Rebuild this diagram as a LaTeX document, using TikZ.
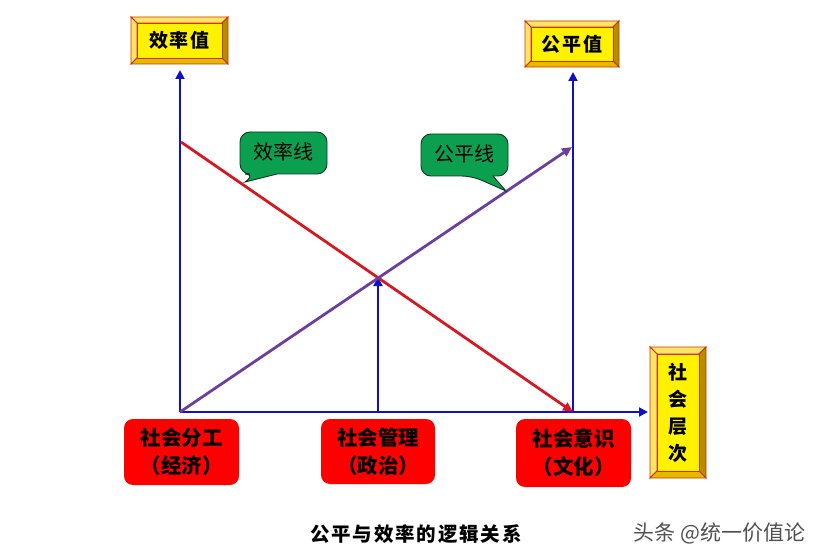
\documentclass[tikz,border=0pt]{standalone}
\usepackage{fontspec}
\setmainfont{Noto Sans CJK SC}
\usetikzlibrary{arrows.meta}
\definecolor{axisblue}{HTML}{1010C8}
\definecolor{lineRed}{HTML}{D81820}
\definecolor{linePurple}{HTML}{6B3FA0}
\definecolor{calloutGreen}{HTML}{0BA050}
\definecolor{calloutEdge}{HTML}{0B3A20}
\definecolor{bevelEdge}{HTML}{CC3300}
\definecolor{bevelTop}{HTML}{FFE566}
\definecolor{bevelBottom}{HTML}{E6B800}
\definecolor{bevelRight}{HTML}{B38F00}
\definecolor{markGray}{HTML}{505050}
\tikzset{
  axisline/.style={draw=axisblue,line width=2pt,-{Triangle[length=9pt,width=9pt]}},
  trendline/.style={line width=2.8pt,-{Triangle[length=10pt,width=9pt]}},
  goldtext/.style={font=\fontsize{19}{24}\selectfont\bfseries,align=center,inner sep=0pt},
  redbox/.style={fill=red,rounded corners=9pt,font=\fontsize{20.5}{28}\selectfont\bfseries,align=center,inner sep=0pt},
  greentext/.style={font=\fontsize{20}{24}\selectfont,inner sep=0pt},
  calloutshape/.style={fill=calloutGreen,draw=calloutEdge,line width=0.9pt,rounded corners=10pt},
  facet/.style={draw=bevelEdge,line width=0.8pt},
}
% #1 name, #2 left, #3 top, #4 right, #5 bottom, #6 bevel, #7 text
\newcommand{\goldbox}[7]{%
  \fill[bevelTop,facet] (#2,#3) -- (#4,#3) -- (#4-#6,#3+#6) -- (#2+#6,#3+#6) -- cycle;
  \fill[bevelTop,facet] (#2,#3) -- (#2+#6,#3+#6) -- (#2+#6,#5-#6) -- (#2,#5) -- cycle;
  \fill[bevelRight,facet] (#4,#3) -- (#4,#5) -- (#4-#6,#5-#6) -- (#4-#6,#3+#6) -- cycle;
  \fill[bevelBottom,facet] (#2,#5) -- (#4,#5) -- (#4-#6,#5-#6) -- (#2+#6,#5-#6) -- cycle;
  \fill[yellow,facet] (#2+#6,#3+#6) rectangle (#4-#6,#5-#6);
  \node[goldtext] (#1) at ({(#2+#4)/2},{(#3+#5)/2}) {#7};
}
\begin{document}
\begin{tikzpicture}[x=1pt,y=-1pt]
\useasboundingbox (0,0) rectangle (820,559);
\goldbox{effval}{131}{17}{228}{64}{6}{效\hspace{2pt}率\hspace{2pt}值}
\goldbox{fairval}{525}{21}{619}{67}{6}{公\hspace{2pt}平\hspace{2pt}值}
\goldbox{level}{650}{347}{706}{478}{7}{社\\[3pt]会\\[3pt]层\\[3pt]次}

\node[redbox,minimum width=115pt,minimum height=66pt] (econ) at (181.5,452) {\raisebox{-2pt}{社会分工}\\\raisebox{-2pt}{（经济）}};
\node[redbox,minimum width=114pt,minimum height=65pt] (gov) at (378,451.5) {\raisebox{-2pt}{社会管理}\\\raisebox{-2pt}{（政治）}};
\node[redbox,minimum width=115pt,minimum height=68pt] (cult) at (573.5,453) {\raisebox{-1pt}{社会意识}\\\raisebox{-1pt}{（文化）}};

\coordinate (origin) at (180,412);
\coordinate (midbase) at (378,412);
\coordinate (rightbase) at (573,412);
\coordinate (xend) at (648,412);
\coordinate (leftend) at (180,70);
\coordinate (rightend) at (573,72);
\coordinate (midend) at (378,277);
\coordinate (redstart) at (181,142);
\coordinate (purpleend) at (572,147);

\draw[axisline] (origin) -- (xend);
\draw[axisline] (origin) -- (leftend);
\draw[axisline] (rightbase) -- (rightend);
\draw[axisline] (midbase) -- (midend);
\draw[trendline,draw=lineRed,fill=lineRed] (redstart) -- (rightbase);
\draw[trendline,draw=linePurple,fill=linePurple] (origin) -- (purpleend);

\draw[calloutshape] (255,174) [rounded corners=0pt] -- (245,182) -- (277,174) [rounded corners=10pt]
  -- (327,174) -- (327,132) -- (240,132) -- (240,174) -- cycle;
\node[greentext] (efflabel) at (283.5,152) {效率线};
\draw[calloutshape] (472,176) [rounded corners=0pt] -- (506,191) -- (493,176) [rounded corners=10pt]
  -- (508,176) -- (508,134) -- (421,134) -- (421,176) -- cycle;
\node[greentext] (fairlabel) at (464.5,154) {公平线};

\node[font=\fontsize{19.5}{24}\selectfont\bfseries,inner sep=0pt] (caption) at (416,534) {公\hspace{1.8pt}平\hspace{1.8pt}与\hspace{1.8pt}效\hspace{1.8pt}率\hspace{1.8pt}的\hspace{1.8pt}逻\hspace{1.8pt}辑\hspace{1.8pt}关\hspace{1.8pt}系};
\node[font=\fontsize{21}{24}\selectfont,text=markGray,inner sep=0pt] (mark) at (719.5,533) {头条 @统一价值论};
\end{tikzpicture}
\end{document}
